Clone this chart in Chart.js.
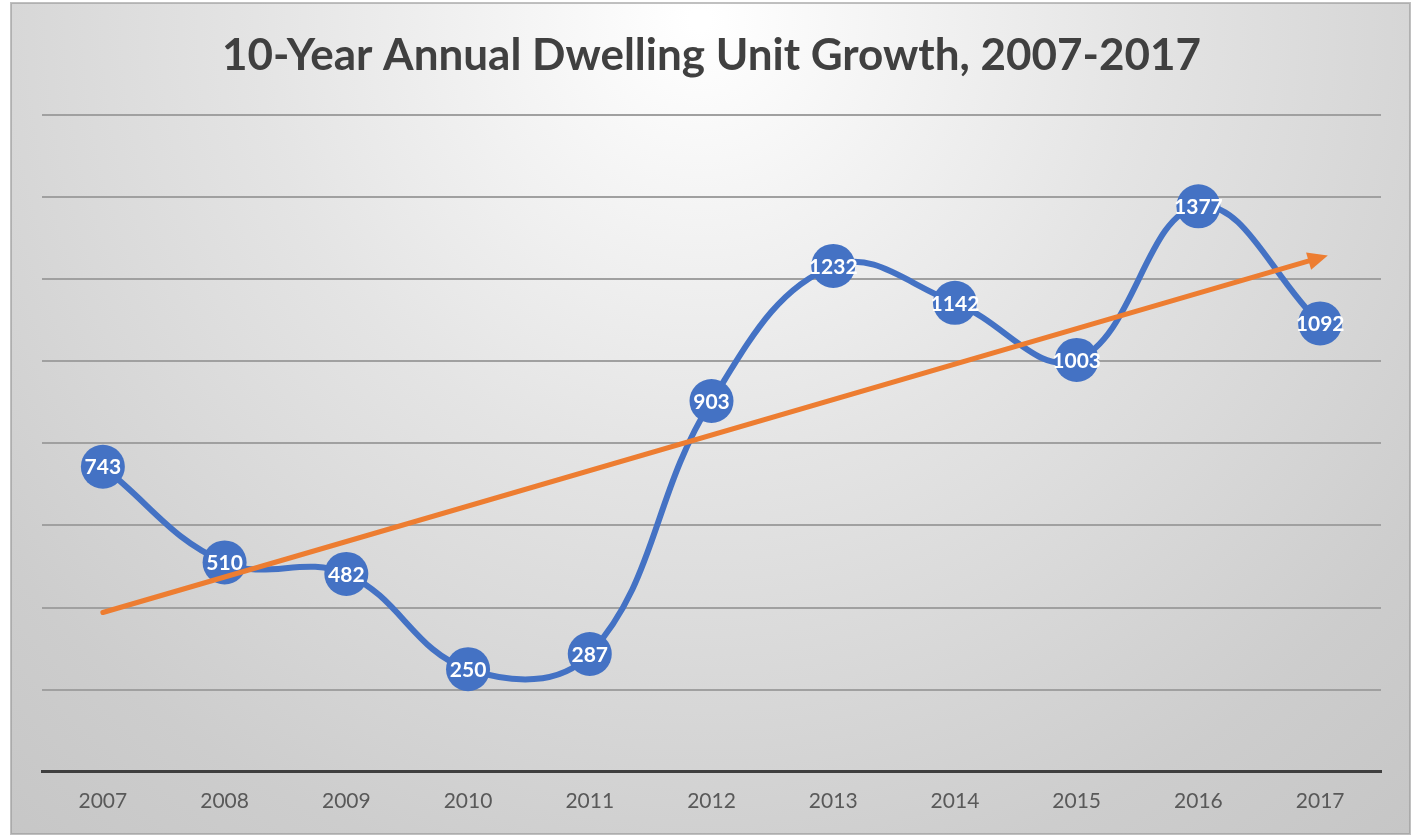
<!DOCTYPE html>
<html>
<head>
<meta charset="utf-8">
<script src="https://cdn.jsdelivr.net/npm/chart.js@4/dist/chart.umd.min.js"></script>
<style>
  html, body { margin: 0; padding: 0; background: #ffffff; }
  #wrap { width: 1416px; height: 836px; position: relative; }
  canvas { display: block; }
</style>
</head>
<body>
<div id="wrap"><canvas id="c" width="1416" height="836"></canvas></div>
<script>
const titleText = "10-Year Annual Dwelling Unit Growth, 2007-2017";
const years = ["2007","2008","2009","2010","2011","2012","2013","2014","2015","2016","2017"];
const units = [743, 510, 482, 250, 287, 903, 1232, 1142, 1003, 1377, 1092];
const trendStart = 388;   // trend line value at 2007
const trendEnd = 1252;    // trend line value at 2017
const yTicks = [0, 200, 400, 600, 800, 1000, 1200, 1400, 1600];

const trendData = years.map((_, i) => i === 0 ? trendStart : (i === years.length - 1 ? trendEnd : null));

const BLUE = "#4472C4";
const ORANGE = "#ED7D31";
const FONT = "Lato, 'Open Sans', 'Liberation Sans', sans-serif";

const panelPlugin = {
  id: "panel",
  beforeDraw(chart) {
    const ctx = chart.ctx;
    ctx.save();
    ctx.fillStyle = "#ffffff";
    ctx.fillRect(0, 0, chart.width, chart.height);
    const x0 = 11, y0 = 3, x1 = 1410, y1 = 834;
    const g = ctx.createRadialGradient(700, 20, 10, 700, 20, 1250);
    g.addColorStop(0, "#ffffff");
    g.addColorStop(0.35, "#e4e4e4");
    g.addColorStop(0.7, "#cdcdcd");
    g.addColorStop(1, "#c0c0c0");
    ctx.fillStyle = g;
    ctx.fillRect(x0, y0, x1 - x0, y1 - y0);
    ctx.strokeStyle = "rgba(150,150,150,0.6)";
    ctx.lineWidth = 2;
    ctx.strokeRect(x0, y0, x1 - x0, y1 - y0);
    ctx.restore();
  }
};

const arrowLabelPlugin = {
  id: "arrowLabels",
  afterDatasetsDraw(chart) {
    const ctx = chart.ctx;
    const tMeta = chart.getDatasetMeta(0);
    const pts = tMeta.data.filter((p, i) => trendData[i] !== null);
    if (pts.length >= 2) {
      const a = pts[0], b = pts[pts.length - 1];
      const ang = Math.atan2(b.y - a.y, b.x - a.x);
      const len = 20, half = 9;
      const tipX = b.x + Math.cos(ang) * 8, tipY = b.y + Math.sin(ang) * 8;
      ctx.save();
      ctx.fillStyle = ORANGE;
      ctx.beginPath();
      ctx.moveTo(tipX, tipY);
      ctx.lineTo(tipX - Math.cos(ang) * len - Math.sin(ang) * half, tipY - Math.sin(ang) * len + Math.cos(ang) * half);
      ctx.lineTo(tipX - Math.cos(ang) * len + Math.sin(ang) * half, tipY - Math.sin(ang) * len - Math.cos(ang) * half);
      ctx.closePath();
      ctx.fill();
      ctx.restore();
    }
    const meta = chart.getDatasetMeta(1);
    ctx.save();
    ctx.fillStyle = "#ffffff";
    ctx.font = "bold 21px " + FONT;
    ctx.textAlign = "center";
    ctx.textBaseline = "middle";
    meta.data.forEach((p, i) => {
      ctx.fillText(String(units[i]), p.x, p.y + 1);
    });
    ctx.restore();
  }
};

new Chart(document.getElementById("c"), {
  type: "line",
  data: {
    labels: years,
    datasets: [
      {
        label: "Trend",
        data: trendData,
        borderColor: ORANGE,
        borderWidth: 5,
        pointRadius: 0,
        spanGaps: true,
        tension: 0,
        borderCapStyle: "round"
      },
      {
        label: "Dwelling Units",
        data: units,
        borderColor: BLUE,
        backgroundColor: BLUE,
        borderWidth: 6,
        pointRadius: 22,
        pointBackgroundColor: BLUE,
        pointBorderColor: BLUE,
        pointBorderWidth: 0,
        tension: 0.4,
        cubicInterpolationMode: "default"
      }
    ]
  },
  options: {
    responsive: false,
    animation: false,
    events: [],
    layout: { padding: { left: 42, right: 35, top: 0, bottom: 5 } },
    plugins: {
      legend: { display: false },
      tooltip: { enabled: false },
      title: {
        display: true,
        text: titleText,
        color: "#404040",
        font: { family: FONT, size: 44, weight: "bold" },
        padding: { top: 29, bottom: 33 }
      }
    },
    scales: {
      x: {
        offset: true,
        grid: { display: false, drawTicks: false },
        border: { display: true, color: "#3f3f3f", width: 3 },
        ticks: { color: "#595959", font: { family: FONT, size: 21 }, padding: 17 }
      },
      y: {
        min: 0,
        max: 1600,
        afterBuildTicks(scale) { scale.ticks = yTicks.map(v => ({ value: v })); },
        grid: { color: "#a0a0a0", lineWidth: 2, drawTicks: false },
        border: { display: false },
        ticks: { display: false }
      }
    }
  },
  plugins: [panelPlugin, arrowLabelPlugin]
});
</script>
</body>
</html>
